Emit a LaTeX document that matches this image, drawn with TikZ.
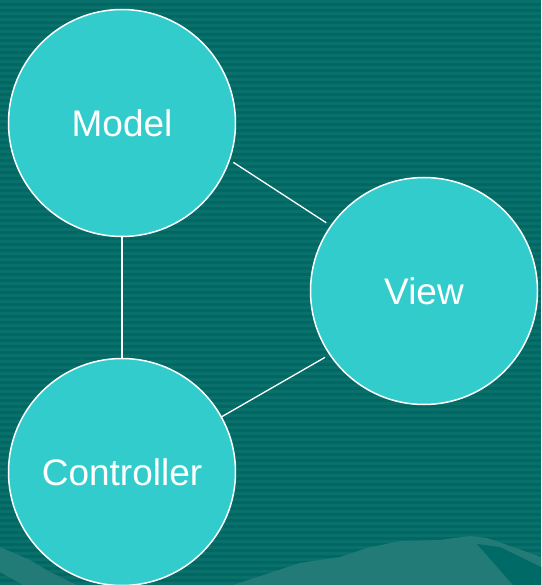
\documentclass[tikz,border=0pt]{standalone}
\usepackage{fontspec}
\setmainfont{Liberation Sans}
\usetikzlibrary{positioning}

\definecolor{bgdark}{HTML}{006762}
\definecolor{bgstripe}{HTML}{0A706C}
\definecolor{hill}{HTML}{237B77}
\definecolor{hilldark}{HTML}{006A66}
\definecolor{ballfill}{HTML}{33CCCC}

\begin{document}
\begin{tikzpicture}[
    x=1pt, y=-1pt,
    % Define circle style
    part style/.style={
        draw=white, % White border
        line width=1.5pt, % Border width
        circle, % Circle shape
        fill=ballfill, % Turquoise fill
        minimum size=227pt, % Diameter
        inner sep=0pt,
        text=white, % White label
        font=\fontsize{37}{40}\selectfont % Label size
      },
    % Define link style
    link/.style={
        draw=white, % White line
        line width=1.3pt % Line thickness
      }
  ]

  % Background with stripes
  \useasboundingbox (0,0) rectangle (541,585);
  \fill[bgdark] (0,0) rectangle (541,585);
  \foreach \y in {0,6,...,582}
    \fill[bgstripe] (0,\y) rectangle (541,\y+3);

  % Hills at the bottom
  \fill[hill] (233,585) -- (300,563) -- (340,557) -- (367,548) -- (400,541)
    -- (440,540) -- (470,536) -- (487,538) -- (513,547) -- (541,557) -- (541,585) -- cycle;
  \fill[hilldark] (477,544) -- (500,547) -- (541,567) -- (541,585) -- (513,585) -- cycle;
  \fill[hill] (455,585) -- (465,581) -- (500,581) -- (505,585) -- cycle;
  \fill[hill] (0,547) -- (30,560) -- (50,572) -- (77,585) -- (23,585) -- (0,572) -- cycle;

  % Define nodes
  \node[part style] (Model) at (122,123) {Model}; % Top left
  \node[part style] (View) at (424,291) {View}; % Right, middle height
  \node[part style] (Controller) at (122,472) {Controller}; % Bottom left, below Model

  % Draw links
  \draw[link] (Model) -- (Controller);
  \draw[link, shorten <=4pt, shorten >=5pt] (Model.-19) -- (View.145);
  \draw[link, shorten >=5pt] (Controller.29) -- (View.214);

\end{tikzpicture}
\end{document}
